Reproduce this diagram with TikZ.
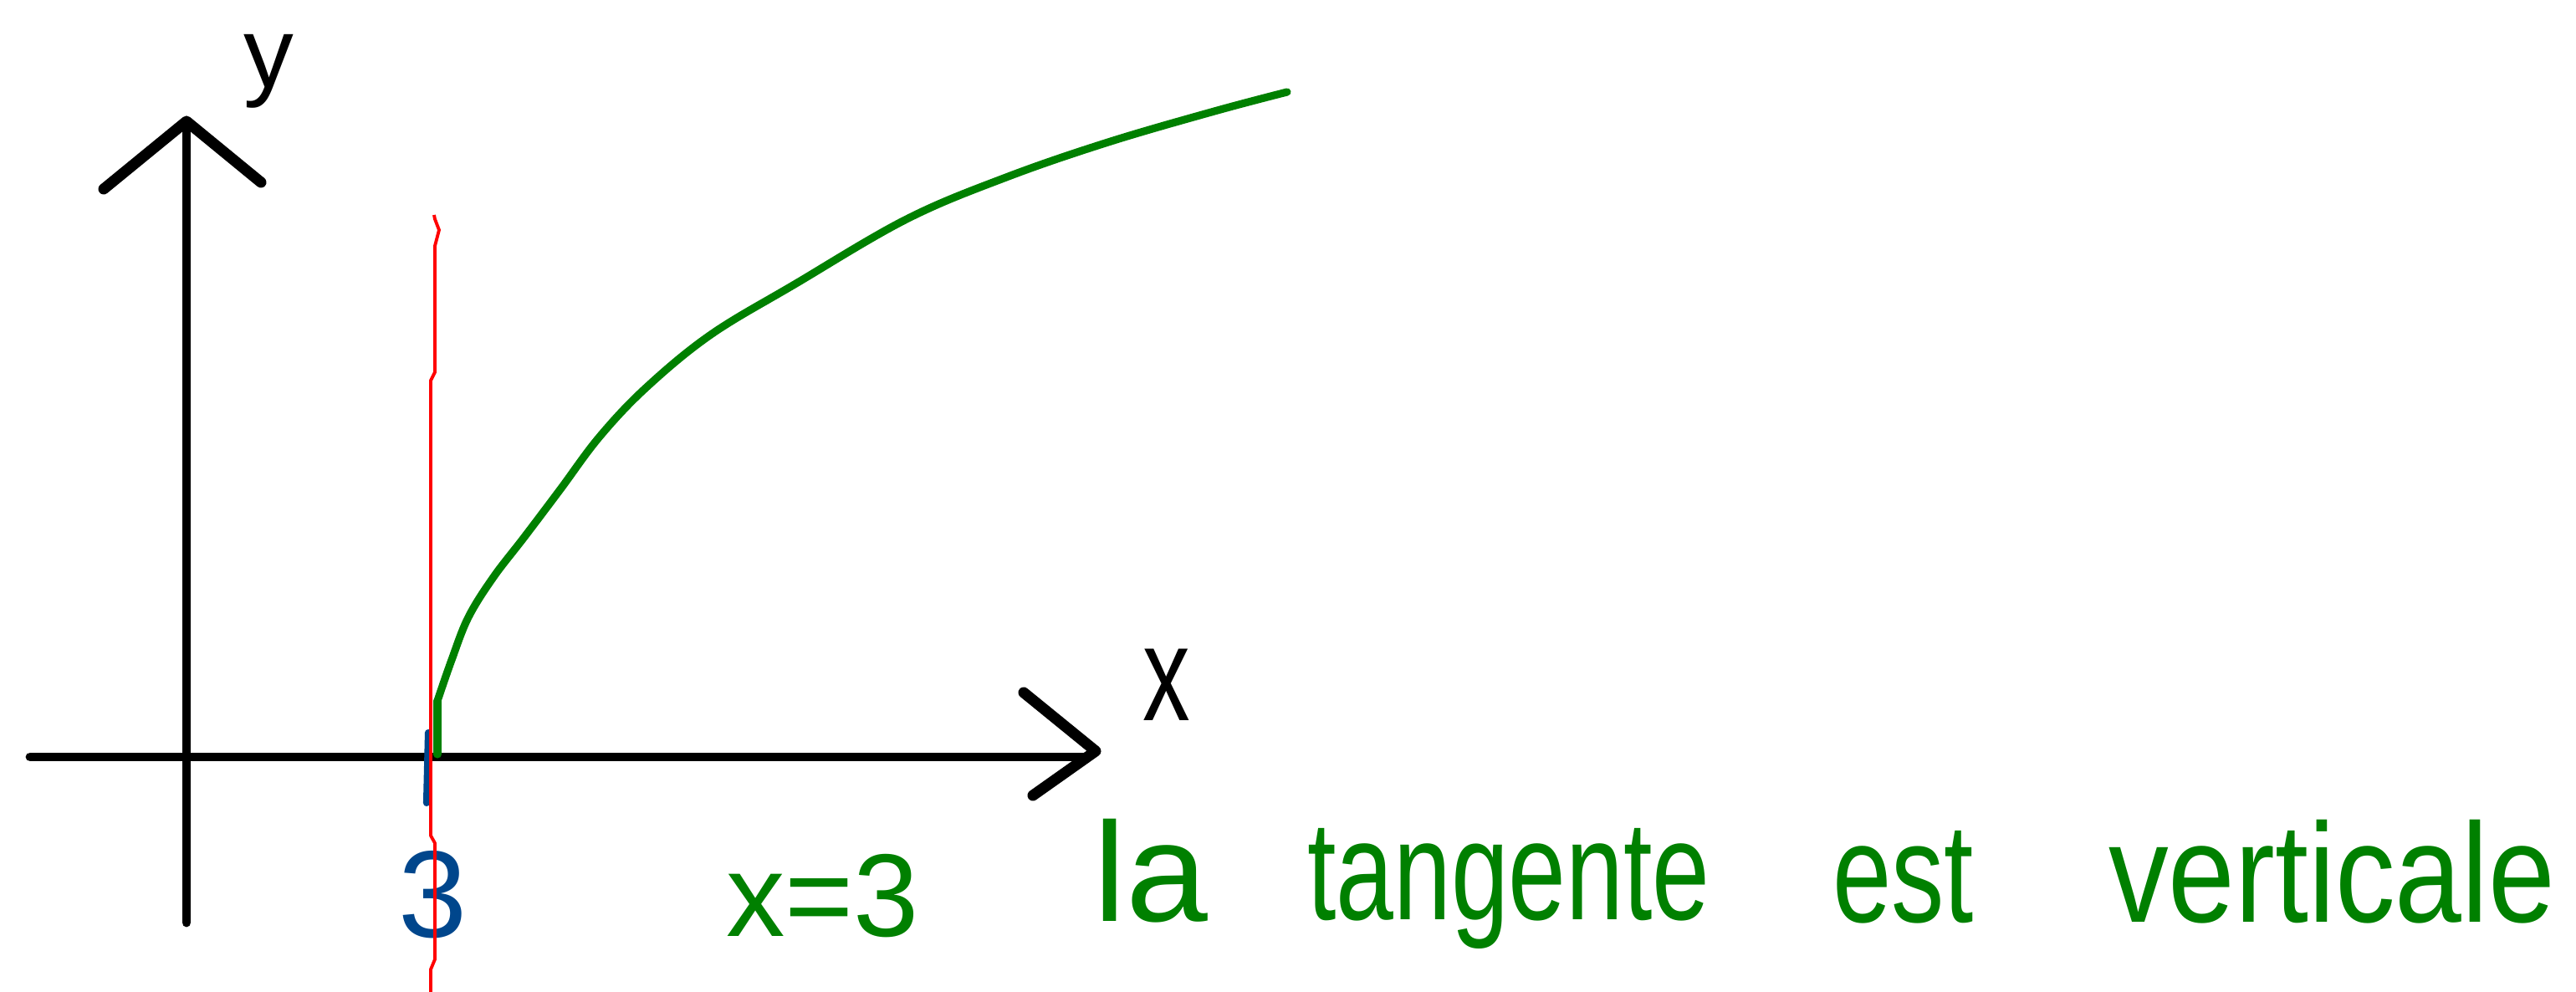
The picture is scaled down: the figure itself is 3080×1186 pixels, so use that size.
\documentclass[tikz,border=0pt]{standalone}
\usepackage{fontspec}
\setmainfont{Liberation Sans}
\usepackage{graphicx}
\definecolor{pgreen}{RGB}{0,128,0}
\definecolor{pblue}{RGB}{0,70,140}
\begin{document}
\begin{tikzpicture}[x=0.01cm,y=-0.01cm,
  axis/.style={line width=3.1pt, black, line cap=round},
  chev/.style={line width=3.7pt, black, line cap=round, line join=round},
  curvestyle/.style={line width=2.6pt, pgreen, line cap=round, line join=round},
  redline/.style={line width=1.1pt, red, line join=round},
  lbl/.style={inner sep=0pt, outer sep=0pt},
  word/.style={lbl, anchor=base west, text=pgreen, font=\fontsize{40}{46}\selectfont}]
\useasboundingbox (0,0) rectangle (3080,1186);
% axes
\coordinate (ybot) at (223,1103);
\coordinate (ytop) at (223,145);
\coordinate (yl) at (124,226);
\coordinate (yr) at (312,218);
\coordinate (xl) at (36,905);
\coordinate (xr) at (1300,905);
\coordinate (xtip) at (1310,898);
\coordinate (xu) at (1224,828);
\coordinate (xd) at (1235,951);
\draw[axis] (ybot) -- (ytop);
\draw[chev] (yl) -- (ytop) -- (yr);
\draw[axis] (xl) -- (xr);
\draw[chev] (xu) -- (xtip) -- (xd);
% axis labels
\node[lbl, anchor=base, font=\fontsize{34}{40}\selectfont] (ylab) at (321,105) {y};
\node[lbl, anchor=base, font=\fontsize{46}{50}\selectfont] (xlab) at (1395,862) {\scalebox{0.7}[1]{x}};
% curve
\draw[curvestyle] (523,902) -- (523,838);
\draw[curvestyle] plot[smooth, tension=0.6] coordinates {
 (523,838) (540,789) (560,738) (590,690) (627,642) (670,585) (717,522)
 (773,463) (850,400) (950,340) (1084,262) (1203,212) (1325,170)
 (1452,133) (1539,110)};
% blue tick and 3
\coordinate (tickA) at (512,876);
\coordinate (tickB) at (510,960);
\draw[line width=2.3pt, pblue, line cap=round] (tickA) -- (tickB);
\node[lbl, anchor=base, text=pblue, font=\fontsize{42}{46}\selectfont] (three) at (518,1121) {3};
% green text
\node[word] (eq) at (868,1120) {x=3};
\node[word] (w1) at (1307,1102) {\scalebox{1.25}[1.2]{la}};
\node[word] (w2) at (1563,1100) {\scalebox{0.88}[1.2]{tangente}};
\node[word] (w3) at (2191,1103) {\scalebox{0.9}[1.2]{est}};
\node[word] (w4) at (2521,1103) {\scalebox{1.02}[1.2]{verticale}};
% red vertical line
\draw[redline] (519,257) -- (520,262) -- (525,275) -- (520,294) -- (520,445)
  -- (515,455) -- (515,999) -- (520,1008) -- (520,1147) -- (515,1159) -- (515,1186);
\end{tikzpicture}
\end{document}
